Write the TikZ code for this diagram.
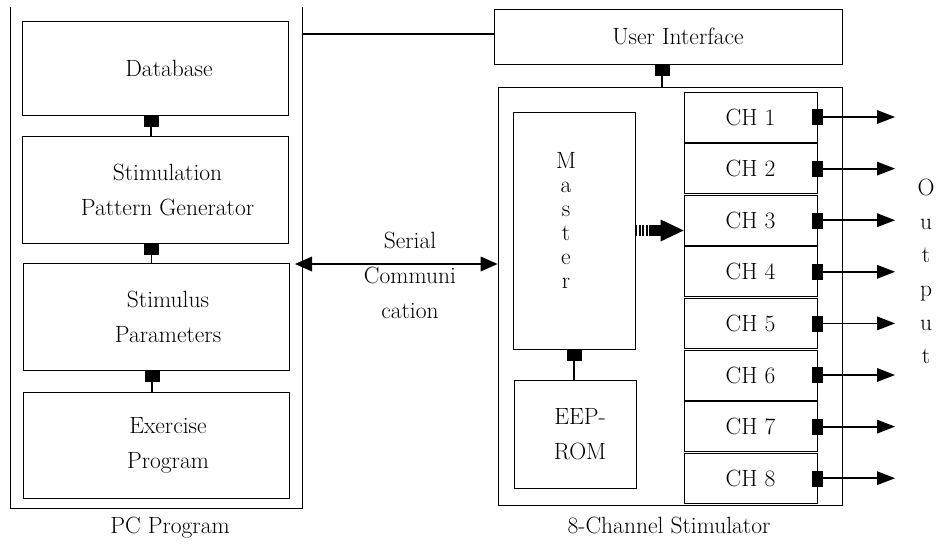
\documentclass[tikz,border=0pt]{standalone}
\usepackage{fontspec}
\usepackage{tikz}
\usetikzlibrary{arrows.meta,positioning}
\tikzset{font=\fontsize{23.5}{35}\selectfont}
\tikzstyle{blk}=[draw,line width=0.8pt,inner sep=0pt,align=center]
\tikzstyle{pcblk}=[draw,line width=0.8pt,inner sep=0pt,minimum width=266pt]
\tikzstyle{jack}=[fill=black,draw,inner sep=0pt,minimum width=14pt,minimum height=11pt]
\tikzstyle{chjack}=[fill=black,draw,inner sep=0pt,minimum width=10pt,minimum height=15pt]
\tikzstyle{wire}=[line width=1.8pt]
\tikzstyle{outarrow}=[-{Triangle[length=18pt,width=14pt,line width=0pt]}]

\begin{document}
\begin{tikzpicture}[x=1pt,y=-1pt]
\useasboundingbox (0,0) rectangle (944,549);
\node[pcblk,minimum height=94pt,label={[xshift=14pt]center:Database}] (DB) at (155,68) {};
\node[pcblk,minimum height=107pt,label={[align=center,xshift=12pt]center:Stimulation\\Pattern Generator}] (SPG) at (155.5,189.5) {};
\node[pcblk,minimum height=107pt,label={[align=center,xshift=12pt]center:Stimulus\\Parameters}] (SP) at (156,316.5) {};
\node[pcblk,minimum height=106pt,label={[align=center,xshift=12pt]center:Exercise\\Program}] (EP) at (156,445) {};
\draw[line width=0.8pt] (10,7) |- (302,508) -- (302,7);
\coordinate (PCR) at (302,34);
\node[anchor=base] (PCL) at (170,533) {PC Program};
\node[jack,anchor=north,xshift=-4pt] (J1) at (DB.south) {};
\node[jack,anchor=north,xshift=-4pt] (J2) at (SPG.south) {};
\node[jack,anchor=north,xshift=-4pt] (J3) at (SP.south) {};
\node[blk,minimum width=348pt,minimum height=55pt,label={[xshift=10pt]center:User Interface}] (UI) at (668,36.5) {};
\node[blk,minimum width=344pt,minimum height=418pt] (ST) at (670,296) {};
\node[anchor=base] (STL) at (669,533) {8-Channel Stimulator};
\node[blk,minimum width=122pt,minimum height=237pt] (MA) at (574,230.5) {};
\node[align=center,font=\fontsize{23.5}{24}\selectfont] (MAT) at (566,220) {M\\a\\s\\t\\e\\r};
\node[blk,minimum width=122pt,minimum height=108pt,label={[align=center,xshift=5pt]center:EEP-\\ROM}] (EE) at (575,434) {};
\node[jack,anchor=north,xshift=-6pt] (J4) at (UI.south) {};
\node[jack,anchor=north] (J5) at (MA.south) {};
\coordinate (SER) at (295,264);
\node[align=center] (SC) at (410,275) {Serial\\Communi\\cation};
\coordinate (OUT) at (895,0);
\node[align=center,font=\fontsize{23.5}{33.6}\selectfont] (OT) at (926,271.5) {O\\u\\t\\p\\u\\t};
\foreach \i in {1,...,8}{
  \node[blk,minimum width=133pt,minimum height=50pt] (CH\i) at (750.5,{117+51.6*(\i-1)}) {CH \i};
  \node[chjack] (Q\i) at (CH\i.east) {};
  \draw[wire,outarrow] (Q\i.east) -- (Q\i.east -| OUT);
}
\draw[wire] (J1) -- (J1 |- SPG.north);
\draw[wire] (J2) -- (J2 |- SP.north);
\draw[wire] (J3) -- (J3 |- EP.north);
\draw[wire] (J4) -- (J4 |- ST.north);
\draw[wire] (J5) -- (J5 |- EE.north);
\draw[wire] (PCR) -- (PCR -| UI.west);
\draw[wire,{Triangle[length=17pt,width=15pt,line width=0pt]}-{Triangle[length=17pt,width=15pt,line width=0pt]}] (SER) -- (SER -| ST.west);
\draw[line width=11pt,dash pattern=on 2pt off 1.5pt on 2pt off 1.5pt on 2pt off 1.5pt on 2pt off 1.5pt on 60pt off 1pt,-{Triangle[length=23pt,width=22pt,line width=0pt]}] (MA.east) -- (MA.east -| CH3.west);
\end{tikzpicture}
\end{document}
